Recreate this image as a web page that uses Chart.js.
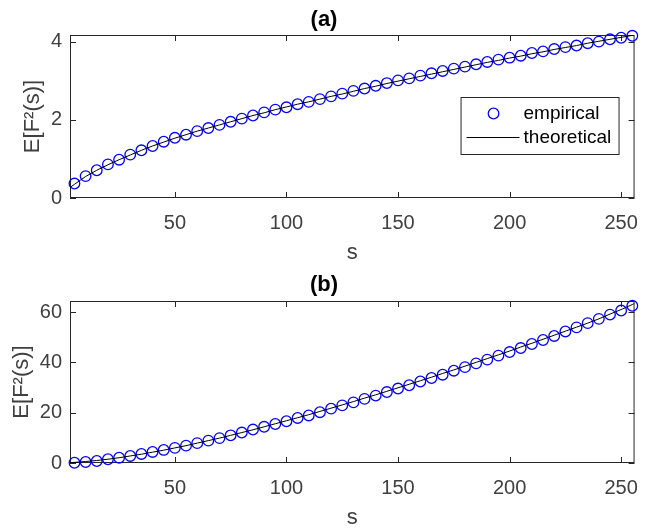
<!DOCTYPE html>
<html>
<head>
<meta charset="utf-8">
<script src="https://cdn.jsdelivr.net/npm/chart.js@4.4.1/dist/chart.umd.min.js"></script>
<style>
  html, body { margin: 0; padding: 0; background: #fff; }
  canvas { display: block; }
</style>
</head>
<body>
<canvas id="chartA" width="651" height="266"></canvas>
<canvas id="chartB" width="651" height="263"></canvas>
<script>
// sample sizes s where the empirical values were measured
const empS = [5, 10, 15, 20, 25, 30, 35, 40, 45, 50, 55, 60, 65, 70, 75, 80, 85, 90, 95, 100,
  105, 110, 115, 120, 125, 130, 135, 140, 145, 150, 155, 160, 165, 170, 175, 180, 185, 190, 195, 200,
  205, 210, 215, 220, 225, 230, 235, 240, 245, 250, 255];

// panel (a)
const empA = [0.37, 0.56, 0.71, 0.86, 0.98, 1.11, 1.22, 1.33, 1.44, 1.54, 1.62, 1.71, 1.79, 1.87, 1.95, 2.03, 2.11, 2.19, 2.26, 2.32,
  2.40, 2.46, 2.53, 2.60, 2.67, 2.74, 2.80, 2.87, 2.94, 3.01, 3.06, 3.13, 3.19, 3.25, 3.31, 3.36, 3.42, 3.48, 3.54, 3.59,
  3.64, 3.71, 3.75, 3.81, 3.86, 3.90, 3.96, 4.00, 4.06, 4.10, 4.15];

// panel (b)
const empB = [0.1, 0.4, 0.8, 1.5, 2.1, 2.8, 3.6, 4.4, 5.2, 6.0, 6.9, 7.9, 8.9, 9.9, 11.0, 12.1, 13.3, 14.4, 15.5, 16.6,
  17.9, 18.9, 20.2, 21.6, 22.9, 24.1, 25.5, 26.8, 28.2, 29.6, 30.9, 32.4, 33.8, 35.1, 36.7, 38.1, 39.6, 41.1, 42.7, 44.1,
  45.7, 47.3, 48.9, 50.5, 52.3, 53.9, 55.6, 57.3, 59.0, 60.6, 62.5];

// theoretical curves
const theoS = [3, 5, 10, 15, 20, 25, 30, 35, 40, 45, 50, 55, 60, 65, 70, 75, 80, 85, 90, 95, 100,
  105, 110, 115, 120, 125, 130, 135, 140, 145, 150, 155, 160, 165, 170, 175, 180, 185, 190, 195, 200,
  205, 210, 215, 220, 225, 230, 235, 240, 245, 250, 255, 256];
const theoA = [0.27, 0.35, 0.55, 0.71, 0.85, 0.98, 1.10, 1.22, 1.33, 1.43, 1.53, 1.62, 1.71, 1.79, 1.87, 1.95, 2.03, 2.11, 2.18, 2.26, 2.33,
  2.40, 2.46, 2.53, 2.60, 2.66, 2.73, 2.80, 2.86, 2.93, 2.99, 3.05, 3.11, 3.17, 3.23, 3.29, 3.35, 3.41, 3.47, 3.52, 3.58,
  3.63, 3.69, 3.74, 3.80, 3.85, 3.90, 3.96, 4.01, 4.06, 4.11, 4.16, 4.17];
const theoB = [0.1, 0.25, 0.6, 1.0, 1.5, 2.1, 2.8, 3.5, 4.3, 5.1, 6.0, 6.9, 7.9, 8.9, 9.9, 11.0, 12.1, 13.2, 14.4, 15.6, 16.8,
  18.0, 19.2, 20.5, 21.8, 23.1, 24.4, 25.8, 27.1, 28.5, 29.9, 31.3, 32.7, 34.1, 35.6, 37.0, 38.5, 40.0, 41.5, 43.0, 44.5,
  46.1, 47.6, 49.2, 50.8, 52.4, 54.0, 55.6, 57.3, 59.2, 61.0, 63.0, 63.4];

const xTicks = [50, 100, 150, 200, 250];
const yTicksA = [0, 2, 4];
const yTicksB = [0, 20, 40, 60];
const legendLabels = ['empirical', 'theoretical'];

const FONT = '"Liberation Sans", Arial, Helvetica, sans-serif';
const AXIS = '#262626';

function pts(xs, ys) {
  return xs.map((v, i) => ({ x: v, y: ys[i] }));
}

// MATLAB style box with inward ticks on all four sides
const matlabAxes = {
  id: 'matlabAxes',
  beforeDatasetsDraw(chart) {
    const { ctx, chartArea: a, scales: { x, y } } = chart;
    ctx.save();
    ctx.strokeStyle = AXIS;
    ctx.lineWidth = 1;
    ctx.beginPath();
    x.ticks.forEach(t => {
      const px = Math.round(x.getPixelForValue(t.value)) + 0.5;
      ctx.moveTo(px, a.bottom); ctx.lineTo(px, a.bottom - 6);
      ctx.moveTo(px, a.top); ctx.lineTo(px, a.top + 6);
    });
    y.ticks.forEach(t => {
      const py = Math.round(y.getPixelForValue(t.value)) + 0.5;
      ctx.moveTo(a.left, py); ctx.lineTo(a.left + 6, py);
      ctx.moveTo(a.right, py); ctx.lineTo(a.right - 6, py);
    });
    ctx.stroke();
    ctx.strokeRect(a.left + 0.5, a.top + 0.5, a.right - a.left - 1, a.bottom - a.top - 1);
    ctx.restore();
  }
};

// legend box inside the axes, top panel only
const insideLegend = {
  id: 'insideLegend',
  afterDraw(chart, args, opts) {
    if (!opts.show) return;
    const { ctx, chartArea: a } = chart;
    const left = a.right - 174, top = a.top + 62, w = 158, h = 57;
    ctx.save();
    ctx.fillStyle = '#fff';
    ctx.fillRect(left, top, w, h);
    ctx.strokeStyle = AXIS;
    ctx.lineWidth = 1;
    ctx.strokeRect(left + 0.5, top + 0.5, w, h);
    // marker
    ctx.strokeStyle = '#0000ff';
    ctx.lineWidth = 1.3;
    ctx.beginPath();
    ctx.arc(left + 33, top + 16.5, 5.3, 0, Math.PI * 2);
    ctx.stroke();
    // line sample
    ctx.strokeStyle = '#000';
    ctx.lineWidth = 1;
    ctx.beginPath();
    ctx.moveTo(left + 6, top + 40.5);
    ctx.lineTo(left + 59, top + 40.5);
    ctx.stroke();
    ctx.fillStyle = '#000';
    ctx.font = '19px ' + FONT;
    ctx.textBaseline = 'middle';
    ctx.textAlign = 'left';
    ctx.fillText(legendLabels[0], left + 63, top + 16.5);
    ctx.fillText(legendLabels[1], left + 63, top + 40.5);
    ctx.restore();
  }
};

function makeChart(id, cfg) {
  return new Chart(document.getElementById(id), {
    type: 'scatter',
    data: {
      datasets: [
        {
          label: legendLabels[0],
          data: pts(empS, cfg.emp),
          showLine: false,
          pointStyle: 'circle',
          pointRadius: 5.3,
          pointBorderWidth: 1.3,
          borderColor: '#0000ff',
          backgroundColor: 'rgba(0,0,0,0)',
          clip: false,
          order: 1
        },
        {
          label: legendLabels[1],
          data: pts(theoS, cfg.theo),
          showLine: true,
          pointRadius: 0,
          borderColor: '#000',
          borderWidth: 1,
          order: 0
        }
      ]
    },
    options: {
      responsive: false,
      animation: false,
      devicePixelRatio: 1,
      events: [],
      layout: { padding: { left: 0, right: 3, top: 0, bottom: 0 } },
      plugins: {
        legend: { display: false },
        tooltip: { enabled: false },
        insideLegend: { show: cfg.legend },
        title: {
          display: true,
          text: cfg.title,
          color: '#000',
          font: { family: FONT, size: 22, weight: 'bold', lineHeight: 1 },
          padding: cfg.titlePad
        }
      },
      scales: {
        x: {
          type: 'linear',
          min: 3,
          max: 256,
          afterBuildTicks: s => { s.ticks = xTicks.map(v => ({ value: v })); },
          afterFit: s => { s.height = cfg.xHeight; },
          grid: { display: false, drawTicks: false },
          border: { display: false },
          ticks: { color: '#404040', font: { family: FONT, size: 20 }, padding: 13, maxRotation: 0 },
          title: {
            display: true,
            text: 's',
            color: '#404040',
            font: { family: FONT, size: 22, lineHeight: 1 },
            padding: { top: 0, bottom: cfg.xTitlePad }
          }
        },
        y: {
          type: 'linear',
          min: 0,
          max: cfg.yMax,
          afterBuildTicks: s => { s.ticks = cfg.yTicks.map(v => ({ value: v })); },
          afterFit: s => { s.width = 70; },
          grid: { display: false, drawTicks: false },
          border: { display: false },
          ticks: { color: '#404040', font: { family: FONT, size: 20 }, padding: 8 },
          title: {
            display: true,
            text: 'E[F²(s)]',
            color: '#404040',
            font: { family: FONT, size: 22, lineHeight: 1 },
            padding: { top: cfg.yTitlePad, bottom: 0 }
          }
        }
      }
    },
    plugins: [matlabAxes, insideLegend]
  });
}

makeChart('chartA', {
  emp: empA, theo: theoA, yMax: 4.17, yTicks: yTicksA, title: '(a)',
  titlePad: { top: 9, bottom: 4 }, xHeight: 68, xTitlePad: 2, yTitlePad: 22, legend: true
});
makeChart('chartB', {
  emp: empB, theo: theoB, yMax: 64.4, yTicks: yTicksB, title: '(b)',
  titlePad: { top: 8, bottom: 5 }, xHeight: 66, xTitlePad: 0, yTitlePad: 11, legend: false
});
</script>
</body>
</html>
